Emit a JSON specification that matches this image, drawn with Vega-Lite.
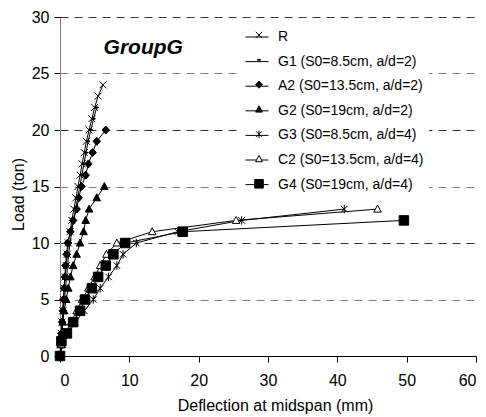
{
  "$schema": "https://vega.github.io/schema/vega-lite/v6.json",
  "width": 416,
  "height": 339,
  "autosize": "none",
  "padding": {"left": 60, "top": 17, "right": 10, "bottom": 61},
  "background": "white",
  "config": {
    "view": {"stroke": null},
    "font": "Liberation Sans"
  },
  "datasets": {
    "curves": [
      {"series": "R", "deflection": 0, "load": 0},
      {"series": "R", "deflection": 0.1, "load": 1},
      {"series": "R", "deflection": 0.2, "load": 2},
      {"series": "R", "deflection": 0.3, "load": 3},
      {"series": "R", "deflection": 0.4, "load": 4},
      {"series": "R", "deflection": 0.5, "load": 5},
      {"series": "R", "deflection": 0.6, "load": 6},
      {"series": "R", "deflection": 0.75, "load": 7},
      {"series": "R", "deflection": 0.9, "load": 8},
      {"series": "R", "deflection": 1.05, "load": 9},
      {"series": "R", "deflection": 1.2, "load": 10},
      {"series": "R", "deflection": 1.45, "load": 11},
      {"series": "R", "deflection": 1.7, "load": 12},
      {"series": "R", "deflection": 2.0, "load": 13},
      {"series": "R", "deflection": 2.3, "load": 14},
      {"series": "R", "deflection": 2.6, "load": 15},
      {"series": "R", "deflection": 2.9, "load": 16},
      {"series": "R", "deflection": 3.2, "load": 17},
      {"series": "R", "deflection": 3.5, "load": 18},
      {"series": "R", "deflection": 3.8, "load": 19},
      {"series": "R", "deflection": 4.2, "load": 20},
      {"series": "R", "deflection": 4.6, "load": 21},
      {"series": "R", "deflection": 5.0, "load": 22},
      {"series": "R", "deflection": 5.5, "load": 23},
      {"series": "R", "deflection": 6.2, "load": 24},

      {"series": "G1 (S0=8.5cm, a/d=2)", "deflection": 0, "load": 0},
      {"series": "G1 (S0=8.5cm, a/d=2)", "deflection": 0.15, "load": 1},
      {"series": "G1 (S0=8.5cm, a/d=2)", "deflection": 0.25, "load": 2},
      {"series": "G1 (S0=8.5cm, a/d=2)", "deflection": 0.4, "load": 3},
      {"series": "G1 (S0=8.5cm, a/d=2)", "deflection": 0.5, "load": 4},
      {"series": "G1 (S0=8.5cm, a/d=2)", "deflection": 0.65, "load": 5},
      {"series": "G1 (S0=8.5cm, a/d=2)", "deflection": 0.8, "load": 6},
      {"series": "G1 (S0=8.5cm, a/d=2)", "deflection": 0.95, "load": 7},
      {"series": "G1 (S0=8.5cm, a/d=2)", "deflection": 1.1, "load": 8},
      {"series": "G1 (S0=8.5cm, a/d=2)", "deflection": 1.25, "load": 9},
      {"series": "G1 (S0=8.5cm, a/d=2)", "deflection": 1.45, "load": 10},
      {"series": "G1 (S0=8.5cm, a/d=2)", "deflection": 1.7, "load": 11},
      {"series": "G1 (S0=8.5cm, a/d=2)", "deflection": 1.95, "load": 12},
      {"series": "G1 (S0=8.5cm, a/d=2)", "deflection": 2.25, "load": 13},
      {"series": "G1 (S0=8.5cm, a/d=2)", "deflection": 2.55, "load": 14},
      {"series": "G1 (S0=8.5cm, a/d=2)", "deflection": 2.85, "load": 15},
      {"series": "G1 (S0=8.5cm, a/d=2)", "deflection": 3.15, "load": 16},
      {"series": "G1 (S0=8.5cm, a/d=2)", "deflection": 3.45, "load": 17},
      {"series": "G1 (S0=8.5cm, a/d=2)", "deflection": 3.75, "load": 18},
      {"series": "G1 (S0=8.5cm, a/d=2)", "deflection": 4.05, "load": 19},
      {"series": "G1 (S0=8.5cm, a/d=2)", "deflection": 4.45, "load": 20},
      {"series": "G1 (S0=8.5cm, a/d=2)", "deflection": 4.85, "load": 21},
      {"series": "G1 (S0=8.5cm, a/d=2)", "deflection": 5.3, "load": 22},

      {"series": "A2 (S0=13.5cm, a/d=2)", "deflection": 0, "load": 0},
      {"series": "A2 (S0=13.5cm, a/d=2)", "deflection": 0.1, "load": 1},
      {"series": "A2 (S0=13.5cm, a/d=2)", "deflection": 0.2, "load": 2},
      {"series": "A2 (S0=13.5cm, a/d=2)", "deflection": 0.3, "load": 3},
      {"series": "A2 (S0=13.5cm, a/d=2)", "deflection": 0.4, "load": 4},
      {"series": "A2 (S0=13.5cm, a/d=2)", "deflection": 0.5, "load": 5},
      {"series": "A2 (S0=13.5cm, a/d=2)", "deflection": 0.6, "load": 6},
      {"series": "A2 (S0=13.5cm, a/d=2)", "deflection": 0.7, "load": 7},
      {"series": "A2 (S0=13.5cm, a/d=2)", "deflection": 0.8, "load": 8},
      {"series": "A2 (S0=13.5cm, a/d=2)", "deflection": 0.95, "load": 9},
      {"series": "A2 (S0=13.5cm, a/d=2)", "deflection": 1.1, "load": 10},
      {"series": "A2 (S0=13.5cm, a/d=2)", "deflection": 1.5, "load": 11},
      {"series": "A2 (S0=13.5cm, a/d=2)", "deflection": 1.9, "load": 12},
      {"series": "A2 (S0=13.5cm, a/d=2)", "deflection": 2.4, "load": 13},
      {"series": "A2 (S0=13.5cm, a/d=2)", "deflection": 2.7, "load": 14},
      {"series": "A2 (S0=13.5cm, a/d=2)", "deflection": 3.1, "load": 15},
      {"series": "A2 (S0=13.5cm, a/d=2)", "deflection": 3.7, "load": 16},
      {"series": "A2 (S0=13.5cm, a/d=2)", "deflection": 4.1, "load": 17},
      {"series": "A2 (S0=13.5cm, a/d=2)", "deflection": 4.7, "load": 18},
      {"series": "A2 (S0=13.5cm, a/d=2)", "deflection": 5.3, "load": 19},
      {"series": "A2 (S0=13.5cm, a/d=2)", "deflection": 6.6, "load": 20},

      {"series": "G2 (S0=19cm, a/d=2)", "deflection": 0, "load": 0},
      {"series": "G2 (S0=19cm, a/d=2)", "deflection": 0.1, "load": 1},
      {"series": "G2 (S0=19cm, a/d=2)", "deflection": 0.25, "load": 2},
      {"series": "G2 (S0=19cm, a/d=2)", "deflection": 0.4, "load": 3},
      {"series": "G2 (S0=19cm, a/d=2)", "deflection": 0.6, "load": 4},
      {"series": "G2 (S0=19cm, a/d=2)", "deflection": 0.9, "load": 5},
      {"series": "G2 (S0=19cm, a/d=2)", "deflection": 1.2, "load": 6},
      {"series": "G2 (S0=19cm, a/d=2)", "deflection": 1.5, "load": 7},
      {"series": "G2 (S0=19cm, a/d=2)", "deflection": 1.9, "load": 8},
      {"series": "G2 (S0=19cm, a/d=2)", "deflection": 2.4, "load": 9},
      {"series": "G2 (S0=19cm, a/d=2)", "deflection": 2.9, "load": 10},
      {"series": "G2 (S0=19cm, a/d=2)", "deflection": 3.4, "load": 11},
      {"series": "G2 (S0=19cm, a/d=2)", "deflection": 3.7, "load": 12},
      {"series": "G2 (S0=19cm, a/d=2)", "deflection": 4.2, "load": 13},
      {"series": "G2 (S0=19cm, a/d=2)", "deflection": 5.3, "load": 14},
      {"series": "G2 (S0=19cm, a/d=2)", "deflection": 6.4, "load": 15},

      {"series": "G3 (S0=8.5cm, a/d=4)", "deflection": 0, "load": 0},
      {"series": "G3 (S0=8.5cm, a/d=4)", "deflection": 0.4, "load": 1},
      {"series": "G3 (S0=8.5cm, a/d=4)", "deflection": 1.2, "load": 2},
      {"series": "G3 (S0=8.5cm, a/d=4)", "deflection": 2.2, "load": 3},
      {"series": "G3 (S0=8.5cm, a/d=4)", "deflection": 3.5, "load": 4},
      {"series": "G3 (S0=8.5cm, a/d=4)", "deflection": 4.8, "load": 5},
      {"series": "G3 (S0=8.5cm, a/d=4)", "deflection": 5.8, "load": 6},
      {"series": "G3 (S0=8.5cm, a/d=4)", "deflection": 7.0, "load": 7},
      {"series": "G3 (S0=8.5cm, a/d=4)", "deflection": 8.2, "load": 8},
      {"series": "G3 (S0=8.5cm, a/d=4)", "deflection": 9.1, "load": 9},
      {"series": "G3 (S0=8.5cm, a/d=4)", "deflection": 11.0, "load": 10},
      {"series": "G3 (S0=8.5cm, a/d=4)", "deflection": 17.0, "load": 11},
      {"series": "G3 (S0=8.5cm, a/d=4)", "deflection": 26.2, "load": 12},
      {"series": "G3 (S0=8.5cm, a/d=4)", "deflection": 41.0, "load": 13},

      {"series": "C2 (S0=13.5cm, a/d=4)", "deflection": 0, "load": 0},
      {"series": "C2 (S0=13.5cm, a/d=4)", "deflection": 0.2, "load": 1},
      {"series": "C2 (S0=13.5cm, a/d=4)", "deflection": 0.8, "load": 2},
      {"series": "C2 (S0=13.5cm, a/d=4)", "deflection": 1.6, "load": 3},
      {"series": "C2 (S0=13.5cm, a/d=4)", "deflection": 2.4, "load": 4},
      {"series": "C2 (S0=13.5cm, a/d=4)", "deflection": 3.2, "load": 5},
      {"series": "C2 (S0=13.5cm, a/d=4)", "deflection": 4.1, "load": 6},
      {"series": "C2 (S0=13.5cm, a/d=4)", "deflection": 5.0, "load": 7},
      {"series": "C2 (S0=13.5cm, a/d=4)", "deflection": 5.8, "load": 8},
      {"series": "C2 (S0=13.5cm, a/d=4)", "deflection": 6.7, "load": 9},
      {"series": "C2 (S0=13.5cm, a/d=4)", "deflection": 8.2, "load": 10},
      {"series": "C2 (S0=13.5cm, a/d=4)", "deflection": 13.3, "load": 11},
      {"series": "C2 (S0=13.5cm, a/d=4)", "deflection": 25.4, "load": 12},
      {"series": "C2 (S0=13.5cm, a/d=4)", "deflection": 45.8, "load": 13},

      {"series": "G4 (S0=19cm, a/d=4)", "deflection": 0, "load": 0},
      {"series": "G4 (S0=19cm, a/d=4)", "deflection": 0.2, "load": 1.3},
      {"series": "G4 (S0=19cm, a/d=4)", "deflection": 1.0, "load": 2},
      {"series": "G4 (S0=19cm, a/d=4)", "deflection": 1.9, "load": 3},
      {"series": "G4 (S0=19cm, a/d=4)", "deflection": 2.9, "load": 4},
      {"series": "G4 (S0=19cm, a/d=4)", "deflection": 3.6, "load": 5},
      {"series": "G4 (S0=19cm, a/d=4)", "deflection": 4.6, "load": 6},
      {"series": "G4 (S0=19cm, a/d=4)", "deflection": 5.5, "load": 7},
      {"series": "G4 (S0=19cm, a/d=4)", "deflection": 6.6, "load": 8},
      {"series": "G4 (S0=19cm, a/d=4)", "deflection": 7.7, "load": 9},
      {"series": "G4 (S0=19cm, a/d=4)", "deflection": 9.4, "load": 10},
      {"series": "G4 (S0=19cm, a/d=4)", "deflection": 17.7, "load": 11},
      {"series": "G4 (S0=19cm, a/d=4)", "deflection": 49.6, "load": 12}
    ],
    "note": [{"deflection": 12, "load": 27.3, "label": "GroupG"}]
  },
  "layer": [
    {
      "data": {"name": "curves"},
      "mark": {"type": "line", "strokeWidth": 1},
      "encoding": {
        "x": {
          "field": "deflection", "type": "quantitative",
          "scale": {"domain": [0, 60], "nice": false, "zero": true},
          "axis": {
            "title": "Deflection at midspan (mm)",
            "values": [0, 10, 20, 30, 40, 50, 60],
            "grid": false,
            "domainColor": "black",
            "domainWidth": 1,
            "tickColor": "black",
            "tickSize": 6,
            "labelFontSize": 16,
            "labelColor": "black",
            "labelPadding": 10,
            "titleFontSize": 16,
            "titleFontWeight": "normal",
            "titleColor": "black",
            "titleX": 215,
            "titleY": 49,
            "titleBaseline": "middle",
            "titleAlign": "center"
          }
        },
        "y": {
          "field": "load", "type": "quantitative",
          "scale": {"domain": [0, 30], "nice": false},
          "axis": {
            "title": "Load (ton)",
            "values": [0, 5, 10, 15, 20, 25, 30],
            "grid": true,
            "gridDash": [8, 6],
            "gridColor": {"condition": {"test": "datum.value % 10 === 0", "value": "#333333"}, "value": "#808080"},
            "gridWidth": 1,
            "domainColor": "#808080",
            "domainWidth": 1,
            "tickColor": "black",
            "tickSize": 6,
            "labelFontSize": 16,
            "labelColor": "black",
            "labelPadding": 5,
            "titleFontSize": 16,
            "titleFontWeight": "normal",
            "titleColor": "black",
            "titleAngle": 270,
            "titleX": -42,
            "titleY": 177,
            "titleAlign": "center",
            "titleBaseline": "middle"
          }
        },
        "color": {
          "field": "series", "type": "nominal",
          "sort": ["R", "G1 (S0=8.5cm, a/d=2)", "A2 (S0=13.5cm, a/d=2)", "G2 (S0=19cm, a/d=2)", "G3 (S0=8.5cm, a/d=4)", "C2 (S0=13.5cm, a/d=4)", "G4 (S0=19cm, a/d=4)"],
          "scale": {"range": ["black", "black", "black", "black", "black", "black", "black"]},
          "legend": {
            "title": null,
            "orient": "none",
            "legendX": 180,
            "legendY": 3,
            "padding": 5,
            "fillColor": "white",
            "symbolType": "stroke",
            "symbolSize": 529,
            "symbolStrokeWidth": 1,
            "rowPadding": 5.6,
            "labelOffset": 9,
            "labelFontSize": 14,
            "labelColor": "black",
            "labelLimit": 300
          }
        }
      }
    },
    {
      "data": {"name": "curves"},
      "mark": {"type": "point", "filled": true, "strokeWidth": 1, "size": 100, "opacity": 1},
      "encoding": {
        "x": {"field": "deflection", "type": "quantitative"},
        "y": {"field": "load", "type": "quantitative"},
        "shape": {
          "field": "series", "type": "nominal",
          "scale": {
            "domain": ["R", "G1 (S0=8.5cm, a/d=2)", "A2 (S0=13.5cm, a/d=2)", "G2 (S0=19cm, a/d=2)", "G3 (S0=8.5cm, a/d=4)", "C2 (S0=13.5cm, a/d=4)", "G4 (S0=19cm, a/d=4)"],
            "range": [
              "M-0.7,-0.7L0.7,0.7M-0.7,0.7L0.7,-0.7",
              "M-0.3,-0.1H0.3V0.1H-0.3Z",
              "M0,-0.8L0.75,0L0,0.8L-0.75,0Z",
              "M0,-0.8L0.75,0.6H-0.75Z",
              "M-0.65,-0.65L0.65,0.65M-0.65,0.65L0.65,-0.65M0,-0.85V0.85",
              "M0,-0.8L0.75,0.6H-0.75Z",
              "M-0.95,-0.95H0.95V0.95H-0.95Z"
            ]
          },
          "legend": {
            "title": null,
            "orient": "none",
            "legendX": 187,
            "legendY": 6,
            "padding": 5,
            "symbolSize": 81,
            "symbolStrokeWidth": 1,
            "rowPadding": 10.8,
            "labelOffset": 9,
            "labelFontSize": 14,
            "labelColor": "transparent",
            "labelExpr": "' '",
            "labelLimit": 20
          }
        },
        "fill": {
          "field": "series", "type": "nominal",
          "scale": {
            "domain": ["R", "G1 (S0=8.5cm, a/d=2)", "A2 (S0=13.5cm, a/d=2)", "G2 (S0=19cm, a/d=2)", "G3 (S0=8.5cm, a/d=4)", "C2 (S0=13.5cm, a/d=4)", "G4 (S0=19cm, a/d=4)"],
            "range": ["black", "black", "black", "black", "black", "white", "black"]
          },
          "legend": {
            "title": null,
            "orient": "none",
            "legendX": 187,
            "legendY": 6,
            "padding": 5,
            "symbolSize": 81,
            "symbolStrokeWidth": 1,
            "rowPadding": 10.8,
            "labelOffset": 9,
            "labelFontSize": 14,
            "labelColor": "transparent",
            "labelExpr": "' '",
            "labelLimit": 20
          }
        },
        "stroke": {
          "field": "series", "type": "nominal",
          "scale": {
            "domain": ["R", "G1 (S0=8.5cm, a/d=2)", "A2 (S0=13.5cm, a/d=2)", "G2 (S0=19cm, a/d=2)", "G3 (S0=8.5cm, a/d=4)", "C2 (S0=13.5cm, a/d=4)", "G4 (S0=19cm, a/d=4)"],
            "range": ["black", "black", "black", "black", "black", "black", "black"]
          },
          "legend": {
            "title": null,
            "orient": "none",
            "legendX": 187,
            "legendY": 6,
            "padding": 5,
            "symbolSize": 81,
            "symbolStrokeWidth": 1,
            "rowPadding": 10.8,
            "labelOffset": 9,
            "labelFontSize": 14,
            "labelColor": "transparent",
            "labelExpr": "' '",
            "labelLimit": 20
          }
        }
      }
    },
    {
      "data": {"name": "note"},
      "mark": {"type": "text", "fontSize": 21, "fontWeight": "bold", "fontStyle": "italic", "align": "center", "baseline": "middle", "fill": "black"},
      "encoding": {
        "x": {"field": "deflection", "type": "quantitative"},
        "y": {"field": "load", "type": "quantitative"},
        "text": {"field": "label"}
      }
    }
  ]
}
